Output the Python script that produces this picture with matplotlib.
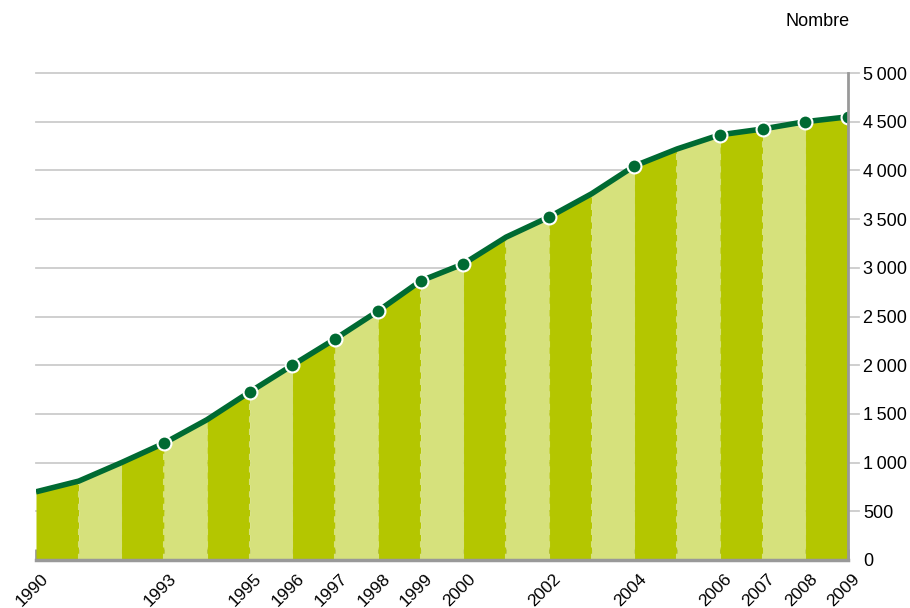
import matplotlib.pyplot as plt
from matplotlib.transforms import ScaledTranslation

plt.rcParams['font.family'] = ['Liberation Sans', 'DejaVu Sans']

# data
years = list(range(1990, 2010))
values = [700, 810, 1000, 1200, 1440, 1725, 2000, 2270, 2555, 2865,
          3040, 3315, 3520, 3760, 4045, 4220, 4365, 4425, 4500, 4550]
marker_years = [1993, 1995, 1996, 1997, 1998, 1999, 2000, 2002, 2004,
                2006, 2007, 2008, 2009]
label_years = [1990, 1993, 1995, 1996, 1997, 1998, 1999, 2000, 2002, 2004,
               2006, 2007, 2008, 2009]
yticks = list(range(0, 5001, 500))

dark = '#b4c600'
light = '#d6e17c'
line_col = '#006a32'
gray = '#999999'

fig = plt.figure(figsize=(9.1, 6.08), dpi=100)
ax = fig.add_axes([36 / 910, 48 / 608, 812 / 910, 487 / 608])

# alternating stripes under the curve
for i in range(len(years) - 1):
    col = dark if i % 2 == 0 else light
    ax.fill_between(years[i:i + 2], 0, values[i:i + 2], color=col,
                    linewidth=0, zorder=2)

# dashed edges between stripes
for i in range(1, len(years) - 1):
    ax.plot([years[i], years[i]], [0, values[i]], color=light, lw=1.5,
            ls=(0, (3, 3)), zorder=2.5)

# grid lines
for v in yticks[1:]:
    ax.plot([1990, 2009.25], [v, v], color='#cccccc', lw=1.3, zorder=1,
            clip_on=False)

ax.plot(years, values, color=line_col, lw=4, zorder=3,
        solid_capstyle='butt')
mv = [values[years.index(y)] for y in marker_years]
ax.plot(marker_years, mv, 'o', color=line_col, ms=10, mec='white',
        mew=1.5, zorder=4)

ax.set_xlim(1990, 2009)
ax.set_ylim(0, 5000)

for s in ['top', 'left']:
    ax.spines[s].set_visible(False)
ax.spines['bottom'].set_color(gray)
ax.spines['bottom'].set_linewidth(2.5)
ax.spines['right'].set_color(gray)
ax.spines['right'].set_linewidth(2)
ax.spines['bottom'].set_zorder(5)
ax.spines['right'].set_zorder(5)

ax.yaxis.tick_right()
ax.set_yticks(yticks)
ax.set_yticklabels([f'{v:,}'.replace(',', '\u2009') for v in yticks],
                   fontsize=13)
ax.tick_params(axis='y', length=0, pad=11)

ax.set_xticks(years)
ax.set_xticklabels([str(y) if y in label_years else '' for y in years],
                   rotation=45, ha='right', va='center',
                   rotation_mode='anchor', fontsize=12.5)
ax.tick_params(axis='x', direction='in', length=8, width=2, color=gray,
               pad=12)
off = ScaledTranslation(7 / 72, 0, fig.dpi_scale_trans)
for lab in ax.get_xticklabels():
    lab.set_transform(lab.get_transform() + off)

fig.text(850 / 910, 1 - 22 / 608, 'Nombre', ha='right', va='center',
         fontsize=13)

fig.savefig('out.png', dpi=100)
